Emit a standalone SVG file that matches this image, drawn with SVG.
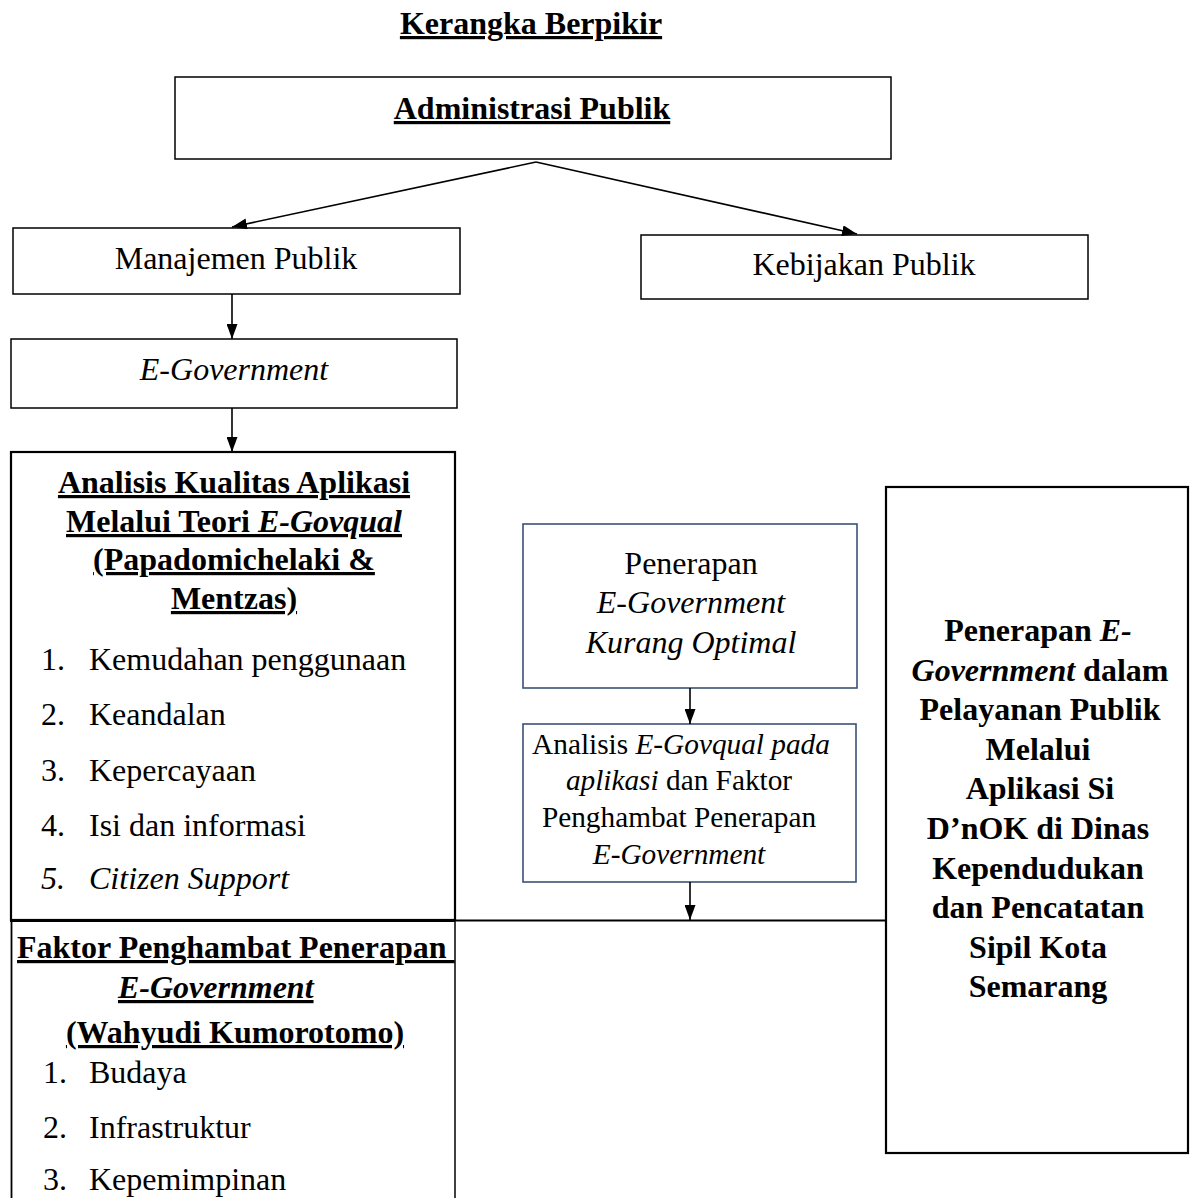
<svg xmlns="http://www.w3.org/2000/svg" width="1195" height="1198" viewBox="0 0 1195 1198">
<style>
text{font-family:"Liberation Serif","Times New Roman",serif;font-size:32px;fill:#000}
.b{font-weight:bold}
.i{font-style:italic}
.u{text-decoration:underline}
.m{text-anchor:middle}
.box{fill:#fff;stroke:#000;stroke-width:1.5}
.thick{fill:#fff;stroke:#000;stroke-width:2.2}
.blue{fill:#fff;stroke:#3B5275;stroke-width:1.6}
.conn{stroke:#000;stroke-width:1.6;fill:none}
.small{font-size:29.3px}
</style>
<defs>
<marker id="ah" markerUnits="userSpaceOnUse" markerWidth="15" markerHeight="11" refX="15" refY="5.5" orient="auto">
<path d="M0,0 L15,5.5 L0,11 z" fill="#000"/>
</marker>
</defs>
<rect width="1195" height="1198" fill="#fff"/>

<g id="title">
<text class="b u m" x="531" y="34">Kerangka Berpikir</text>
</g>

<g id="administrasi">
<rect class="box" x="175" y="77" width="716" height="82"/>
<text class="b u m" x="532" y="119">Administrasi Publik</text>
</g>

<g id="manajemen">
<rect class="box" x="13" y="228" width="447" height="66"/>
<text class="m" x="236" y="269">Manajemen Publik</text>
</g>

<g id="kebijakan">
<rect class="box" x="641" y="235" width="447" height="64"/>
<text class="m" x="864" y="275">Kebijakan Publik</text>
</g>

<g id="egov">
<rect class="box" x="11" y="339" width="446" height="69"/>
<text class="m i" x="234" y="380">E-Government</text>
</g>

<g id="analisis-kualitas">
<rect class="thick" x="11" y="452" width="444" height="468"/>
<text class="b u m" x="234" y="493">Analisis Kualitas Aplikasi</text>
<text class="b u m" x="234" y="532">Melalui Teori <tspan class="i">E-Govqual</tspan></text>
<text class="b u m" x="234" y="570">(Papadomichelaki &amp;</text>
<text class="b u m" x="234" y="609">Mentzas)</text>
<text x="41" y="670">1.</text><text x="89" y="670">Kemudahan penggunaan</text>
<text x="41" y="725">2.</text><text x="89" y="725">Keandalan</text>
<text x="41" y="781">3.</text><text x="89" y="781">Kepercayaan</text>
<text x="41" y="836">4.</text><text x="89" y="836">Isi dan informasi</text>
<text class="i" x="41" y="889">5.</text><text class="i" x="89" y="889">Citizen Support</text>
</g>

<g id="faktor-penghambat">
<line x1="11.5" y1="920" x2="11.5" y2="1198" stroke="#000" stroke-width="1.8"/>
<line x1="455" y1="920" x2="455" y2="1198" stroke="#000" stroke-width="1.5"/>
<text class="b u" x="17" y="958" style="white-space:pre">Faktor Penghambat Penerapan </text>
<text class="b u i" x="118" y="998">E-Government</text>
<text class="b u m" x="235" y="1043">(Wahyudi Kumorotomo)</text>
<text x="43" y="1083">1.</text><text x="89" y="1083">Budaya</text>
<text x="43" y="1138">2.</text><text x="89" y="1138">Infrastruktur</text>
<text x="43" y="1190">3.</text><text x="89" y="1190">Kepemimpinan</text>
</g>

<g id="penerapan-kurang">
<rect class="blue" x="523" y="524" width="334" height="164"/>
<text class="m" x="691" y="574">Penerapan</text>
<text class="m i" x="691" y="613">E-Government</text>
<text class="m i" x="691" y="653">Kurang Optimal</text>
</g>

<g id="analisis-egovqual">
<rect class="blue" x="523" y="724" width="333" height="158"/>
<text class="m small" x="681" y="754">Analisis <tspan class="i">E-Govqual pada</tspan></text>
<text class="m small" x="679" y="790"><tspan class="i">aplikasi</tspan> dan Faktor</text>
<text class="m small" x="679" y="827">Penghambat Penerapan</text>
<text class="m small i" x="679" y="864">E-Government</text>
</g>

<g id="penerapan-sidnok">
<rect class="thick" x="886" y="487" width="302" height="666"/>
<text class="b m" x="1038" y="641">Penerapan <tspan class="i">E-</tspan></text>
<text class="b m" x="1040" y="681"><tspan class="i">Government</tspan> dalam</text>
<text class="b m" x="1040" y="720">Pelayanan Publik</text>
<text class="b m" x="1038" y="760">Melalui</text>
<text class="b m" x="1040" y="799">Aplikasi Si</text>
<text class="b m" x="1038" y="839">D’nOK di Dinas</text>
<text class="b m" x="1038" y="879">Kependudukan</text>
<text class="b m" x="1038" y="918">dan Pencatatan</text>
<text class="b m" x="1038" y="958">Sipil Kota</text>
<text class="b m" x="1038" y="997">Semarang</text>
</g>

<g id="connectors">
<line class="conn" x1="536" y1="162" x2="232" y2="227" marker-end="url(#ah)"/>
<line class="conn" x1="536" y1="162" x2="857" y2="234" marker-end="url(#ah)"/>
<line class="conn" x1="232" y1="294" x2="232" y2="339" marker-end="url(#ah)"/>
<line class="conn" x1="232" y1="408" x2="232" y2="452" marker-end="url(#ah)"/>
<line class="conn" x1="690" y1="688" x2="690" y2="724" marker-end="url(#ah)"/>
<line class="conn" x1="690" y1="882" x2="690" y2="920" marker-end="url(#ah)"/>
<line x1="10" y1="920.5" x2="455" y2="920.5" stroke="#000" stroke-width="3"/>
<line x1="455" y1="920.5" x2="886" y2="920.5" stroke="#000" stroke-width="2"/>
</g>
</svg>
